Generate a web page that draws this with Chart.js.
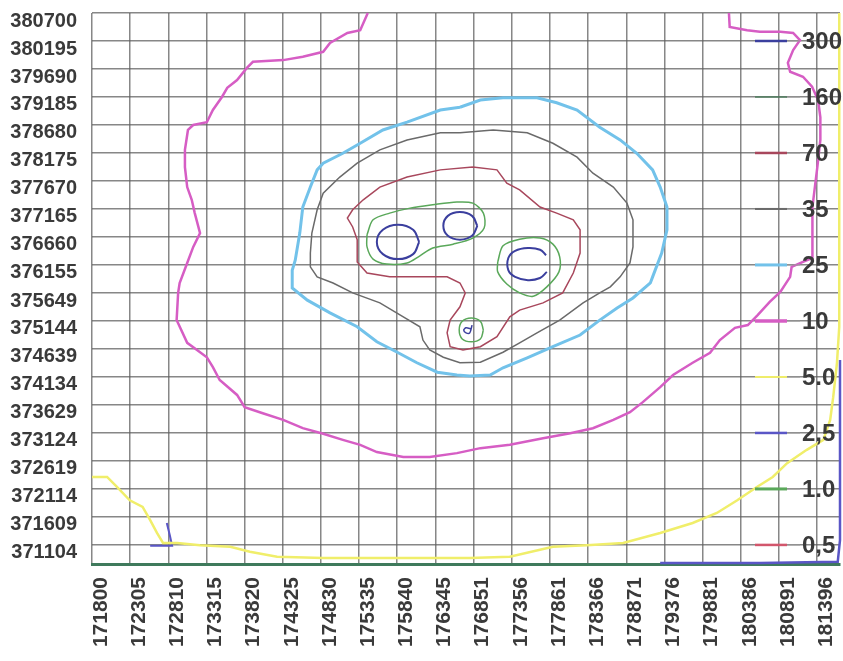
<!DOCTYPE html>
<html>
<head>
<meta charset="utf-8">
<script src="https://cdn.jsdelivr.net/npm/chart.js@4.4.1/dist/chart.umd.min.js"></script>
<style>
  html, body { margin: 0; padding: 0; background: #fff; }
  canvas { display: block; }
</style>
</head>
<body>
<canvas id="kontur" width="843" height="661"></canvas>
<script>
// Achsen (Rechtswert / Hochwert)
const xTickLabels = ["171800", "172305", "172810", "173315", "173820", "174325", "174830", "175335", "175840", "176345",
                     "176851", "177356", "177861", "178366", "178871", "179376", "179881", "180386", "180891", "181396"];
const yTickLabels = ["380700", "380195", "379690", "379185", "378680", "378175", "377670", "377165", "376660", "376155",
                     "375649", "375144", "374639", "374134", "373629", "373124", "372619", "372114", "371609", "371104"];

// Konturstufen fuer die Legende
const levelLabels = ["300", "160", "70", "35", "25", "10", "5.0", "2,5", "1.0", "0,5"];
const levelColors = ["#3b3f9e", "#4f7d5e", "#a8475c", "#6a6a6a", "#72c2ea", "#d65dc4", "#f0ee6a", "#5a56c6", "#5aa85a", "#d2566c"];
const levelWidths = [2.5, 1.5, 2.5, 2, 3, 3.5, 2, 2.5, 3, 2.5];

// Konturlinien [Rechtswert, Hochwert]
const contour10 = [
  [175450,380700],[175350,380390],[175180,380340],[174950,380160],[174860,380000],[174590,379910],[174330,379850],
  [173930,379820],[173850,379710],[173720,379490],[173590,379350],[173520,379185],[173400,378950],[173320,378730],
  [173140,378680],[173070,378590],[173030,378230],[173030,377920],[173060,377560],[173120,377330],[173160,377090],
  [173230,376730],[173140,376480],[173060,376190],[172960,375830],[172940,375650],[172920,375160],[173060,374750],
  [173190,374620],[173320,374490],[173400,374310],[173490,374080],[173720,373810],[173820,373590],[174060,373480],
  [174330,373360],[174590,373210],[174860,373110],[175120,373000],[175350,372910],[175570,372780],[175920,372690],
  [176270,372690],[176630,372760],[176940,372850],[177330,372910],[177770,373030],[178130,373120],[178430,373210],
  [178700,373360],[178920,373500],[179090,373680],[179320,373950],[179490,374170],[179750,374390],[179980,374570],
  [180110,374800],[180310,375020],[180480,375070],[180610,375250],[180770,375490],[180910,375670],[181040,375940],
  [181060,376120],[181210,376210],[181330,376280],[181340,376610],[181330,377200],[181400,377920],[181440,378410],
  [181440,378820],[181410,379130],[181330,379370],[181210,379550],[181040,379640],[181010,379800],[181080,380030],
  [181170,380210],[181080,380340],[180910,380360],[180640,380360],[180470,380390],[180240,380450],[180230,380700]
];
const contour25 = [
  [176670,379000],[176940,379130],[177240,379170],[177690,379170],[177950,379080],[178220,378950],[178520,378640],
  [178790,378410],[179010,378170],[179220,377870],[179320,377560],[179410,377200],[179410,376790],[179340,376370],
  [179220,375940],[179190,375830],[178960,375560],[178750,375380],[178520,375160],[178260,374890],[177900,374680],
  [177560,374480],[177240,374300],[177070,374170],[176800,374150],[176630,374170],[176370,374220],[176100,374390],
  [175840,374580],[175570,374770],[175310,375040],[174950,375290],[174650,375520],[174450,375740],[174450,376060],
  [174490,376240],[174550,376730],[174590,377200],[174690,377560],[174780,377870],[174860,377990],[175120,378170],
  [175350,378350],[175650,378590],[175970,378730],[176410,378950],[176670,379000]
];
const contour35 = [
  [176670,378540],[177110,378590],[177560,378540],[177900,378350],[178220,378100],[178430,377810],[178700,377560],
  [178880,377270],[178960,376970],[178960,376480],[178920,376190],[178790,375940],[178660,375760],[178520,375650],
  [178300,375470],[177990,375160],[177690,374930],[177460,374750],[177240,374580],[176940,374400],[176670,374390],
  [176450,374490],[176270,374620],[176180,374800],[176140,375040],[175920,375220],[175610,375470],[175250,375650],
  [174990,375830],[174780,375940],[174690,376120],[174690,376370],[174710,376730],[174780,377150],[174860,377450],
  [175080,377740],[175310,377990],[175610,378230],[175970,378410],[176410,378540],[176670,378540]
];
const contour70 = [
  [176840,377920],[177160,377870],[177290,377630],[177460,377510],[177730,377200],[177950,377090],[178170,376970],
  [178260,376790],[178260,376370],[178170,376010],[178030,375650],[177770,375470],[177460,375340],[177330,375220],
  [177160,374860],[176940,374680],[176710,374620],[176540,374680],[176500,374930],[176540,375160],[176670,375400],
  [176740,375650],[176670,375830],[176500,375940],[176140,375940],[175740,375940],[175440,376010],[175310,376210],
  [175310,376610],[175250,376840],[175180,377000],[175250,377150],[175390,377330],[175610,377560],[175970,377740],
  [176410,377870],[176840,377920]
];
const contour160a = [
  [175440,376700],[175520,376970],[175740,377090],[176010,377180],[176310,377240],[176630,377290],[176840,377270],
  [176980,377090],[176990,376820],[176840,376640],[176580,376530],[176310,376460],[176140,376320],[175970,376190],
  [175700,376170],[175520,376260],[175440,376480],[175440,376700]
];
const contour160b = [
  [177170,376210],[177240,376500],[177460,376620],[177730,376640],[177900,376530],[177990,376300],[177980,376030],
  [177820,375760],[177640,375590],[177460,375650],[177290,375810],[177170,376030],[177170,376210]
];
const contour160c = [
  [176980,374980],[176940,374820],[176820,374770],[176700,374820],[176660,374980],[176700,375140],[176820,375200],
  [176940,375140],[176980,374980]
];
const contour300a = [
  [176130,376570],[176050,376350],[175850,376260],[175650,376350],[175570,376570],[175650,376790],[175850,376880],
  [176050,376790],[176130,376570]
];
const contour300b = [
  [176900,376860],[176830,376680],[176670,376610],[176510,376680],[176450,376860],[176510,377040],[176670,377110],
  [176830,377040],[176900,376860]
];
const contour300c = [
  [177810,376330],[177730,376430],[177570,376460],[177400,376410],[177310,376280],[177310,376060],[177400,375940],
  [177570,375880],[177730,375920],[177820,376030]
];
const contour300d = [
  [176830,375070],[176800,374930],[176750,374930],[176720,374980],[176750,375020],[176820,375000]
];
const contour5 = [
  [171800,372330],[172000,372330],[172130,372150],[172300,371910],[172470,371790],[172570,371550],[172660,371320],
  [172740,371140],[172930,371140],[173230,371100],[173630,371070],[173890,370980],[174250,370890],[174860,370870],
  [175520,370870],[176180,370870],[176800,370870],[177330,370890],[177900,371070],[178350,371100],[178830,371140],
  [179320,371320],[179750,371500],[180070,371680],[180340,371910],[180600,372150],[180810,372330],[181000,372580],
  [181260,372820],[181480,373000],[181570,373360],[181610,373770],[181660,374390],[181690,375040],[181690,380700]
];
const contour2p5a = [
  [179320,370780],[180640,370780],[181670,370800],[181700,371190],[181700,374440]
];
const contour2p5b = [
  [172570,371090],[172860,371090],[172830,371280],[172790,371500]
];

const gridColor = "rgba(95, 95, 95, 0.75)";
const tickFont = { family: "'Liberation Sans', Arial, sans-serif", weight: "bold" };

function kontur(points, level, width, tension) {
  return {
    data: points.map(function(p) { return { x: p[0], y: p[1] }; }),
    showLine: true,
    borderColor: levelColors[level],
    borderWidth: width,
    pointRadius: 0,
    tension: tension || 0,
    clip: 4
  };
}

const data = {
  datasets: [
    kontur(contour5, 6, 2.5),
    kontur(contour2p5a, 7, 2.5),
    kontur(contour2p5b, 7, 2),
    kontur(contour10, 5, 2.5),
    kontur(contour25, 4, 3),
    kontur(contour35, 3, 1.5),
    kontur(contour70, 2, 1.5),
    kontur(contour160a, 8, 1.5, 0.3),
    kontur(contour160b, 8, 1.5, 0.3),
    kontur(contour160c, 8, 1.5, 0.4),
    kontur(contour300a, 0, 2, 0.4),
    kontur(contour300b, 0, 2, 0.4),
    kontur(contour300c, 0, 2, 0.4),
    kontur(contour300d, 0, 1.5, 0.3)
  ]
};

// Legende rechts im Diagramm, auf jeder zweiten Gitterlinie
const legendPlugin = {
  id: "konturLegende",
  afterDatasetsDraw: function(chart) {
    const ctx = chart.ctx;
    const area = chart.chartArea;
    const yScale = chart.scales.y;
    ctx.save();
    levelLabels.forEach(function(label, i) {
      const y = yScale.getPixelForValue(Number(yTickLabels[1 + 2 * i]));
      ctx.strokeStyle = "#9a9a9a";
      ctx.lineWidth = 1;
      ctx.beginPath();
      ctx.moveTo(area.right - 54, y);
      ctx.lineTo(area.right - 40, y);
      ctx.stroke();
      ctx.strokeStyle = levelColors[i];
      ctx.lineWidth = levelWidths[i];
      ctx.beginPath();
      ctx.moveTo(area.right - 85, y);
      ctx.lineTo(area.right - 53, y);
      ctx.stroke();
      ctx.fillStyle = "#3a3a3a";
      ctx.font = "bold 24px 'Liberation Sans', Arial, sans-serif";
      ctx.textAlign = "left";
      ctx.textBaseline = "middle";
      ctx.fillText(label, area.right - 38, y + 1);
    });
    ctx.restore();
  }
};

const options = {
  responsive: false,
  animation: false,
  layout: { padding: { top: 13, right: 3, left: 0, bottom: 0 } },
  plugins: {
    legend: { display: false },
    tooltip: { enabled: false }
  },
  scales: {
    x: {
      type: "linear",
      min: 171800,
      max: 181700,
      afterBuildTicks: function(axis) {
        axis.ticks = xTickLabels.map(function(v) { return { value: Number(v) }; });
      },
      afterFit: function(axis) {
        axis.height = 97;
        axis.paddingLeft = 0;
        axis.paddingRight = 0;
      },
      grid: { color: gridColor, lineWidth: 1.5, drawTicks: false },
      border: { display: true, color: "#3f7a5c", width: 3 },
      ticks: {
        autoSkip: false,
        minRotation: 90,
        maxRotation: 90,
        padding: 13,
        labelOffset: 9,
        color: "#3a3a3a",
        font: Object.assign({ size: 21 }, tickFont),
        callback: function(value) { return String(value); }
      }
    },
    y: {
      type: "linear",
      min: 370760,
      max: 380700,
      afterBuildTicks: function(axis) {
        axis.ticks = yTickLabels.slice().reverse().map(function(v) { return { value: Number(v) }; });
      },
      afterFit: function(axis) {
        axis.width = 92;
        axis.paddingTop = 0;
        axis.paddingBottom = 0;
      },
      grid: { color: gridColor, lineWidth: 1.5, drawTicks: false },
      border: { display: false },
      ticks: {
        autoSkip: false,
        padding: 15,
        labelOffset: 8,
        color: "#3a3a3a",
        font: Object.assign({ size: 20 }, tickFont),
        callback: function(value) { return String(value); }
      }
    }
  }
};

const ctx = document.getElementById("kontur").getContext("2d");
new Chart(ctx, {
  type: "scatter",
  data: data,
  options: options,
  plugins: [legendPlugin]
});
</script>
</body>
</html>
